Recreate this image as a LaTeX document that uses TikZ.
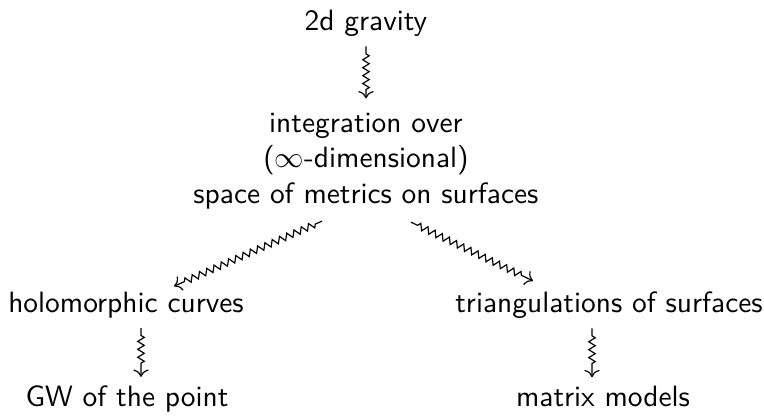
\documentclass[tikz,border=0pt]{standalone}
\usepackage{tikz}
\usetikzlibrary{positioning, calc, decorations.pathmorphing, cd}

\begin{document}
\begin{tikzpicture}[
    x=0.34pt, y=-0.34pt,
    concept/.style={
        font=\sffamily,
        align=center,
        inner sep=3.33pt
    },
    squig/.style={
        -{cm to},
        line width=0.4pt,
        decorate,
        decoration={zigzag, segment length=2.7pt, amplitude=1.1pt,
            pre length=2.5pt, post length=3.5pt}
    }
]
\useasboundingbox (0,0) rectangle (764,416);

% Concepts
\node[concept, anchor=base] (grav) at (366,30) {2d gravity};
\node[concept] (integ) at (366,161) {
    integration over \\
    ($\infty$-dimensional) \\
    space of metrics on surfaces
};
\node[concept, anchor=base] (holo) at (126,312) {holomorphic curves};
\node[concept, anchor=base] (tri) at (609,312) {triangulations of surfaces};
\node[concept, anchor=base] (gw) at (127,407) {GW of the point};
\node[concept, anchor=base] (mm) at (603,407) {matrix models};

% Squiggly connections
\draw[squig, shorten >=1.5pt] (grav) -- (integ);
\draw[squig] ($(integ.south)+(-44,2)$) -- ($(holo.north)+(48,5)$);
\draw[squig] ($(integ.south)+(45,3)$) -- ($(tri.north)+(-76,0)$);
\draw[squig] ($(holo.south)+(15,0)$) -- ($(gw.north)+(14,1)$);
\draw[squig] ($(tri.south)+(-17,0)$) -- ($(mm.north)+(-11,1)$);

\end{tikzpicture}
\end{document}
